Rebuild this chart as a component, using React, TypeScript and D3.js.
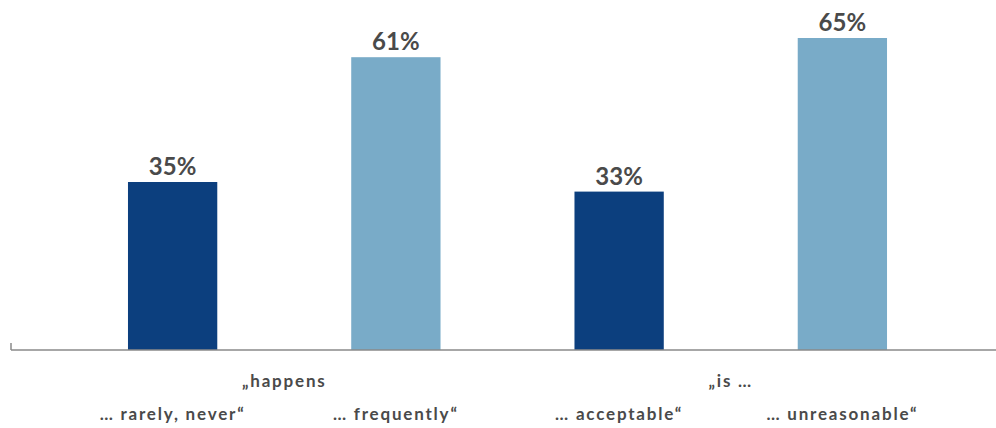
import React from "react";
import * as d3 from "d3";

// Survey shares per answer option, in percent
const categories = ["rarelyNever", "frequently", "acceptable", "unreasonable"];
const values = [35, 61, 33, 65];
const barLabels = ["35%", "61%", "33%", "65%"];
const answerLabels = ["… rarely, never“", "… frequently“", "… acceptable“", "… unreasonable“"];
const groupLabels = ["„happens", "„is …"];
const barColors = ["#0c3f7e", "#79abc8", "#0c3f7e", "#79abc8"];

const W = 996;
const H = 428;
const baseY = 350;
const font = "Lato, 'Open Sans', sans-serif";
const textColor = "#4a4a4a";

export default function App() {
  const x = d3
    .scaleBand<string>()
    .domain(categories)
    .range([61, 954])
    .paddingInner(0.6)
    .paddingOuter(0.3);
  const y = d3.scaleLinear().domain([0, 100]).range([baseY, baseY - 480]);

  const groupCenters = [0, 1].map((g) => {
    const a = x(categories[g * 2])! + x.bandwidth() / 2;
    const b = x(categories[g * 2 + 1])! + x.bandwidth() / 2;
    return (a + b) / 2;
  });

  const axisLabelStyle = {
    fontFamily: font,
    fontWeight: 700,
    fontSize: 17,
    letterSpacing: 1.8,
    fill: textColor,
  } as const;

  return (
    <svg
      width={W}
      height={H}
      style={{ position: "absolute", left: 0, top: 0, background: "#fff" }}
    >
      {categories.map((c, i) => {
        const bx = x(c)!;
        const cx = bx + x.bandwidth() / 2;
        return (
          <g key={c}>
            <rect
              x={bx}
              y={y(values[i])}
              width={x.bandwidth()}
              height={baseY - y(values[i])}
              fill={barColors[i]}
            />
            <text
              x={cx}
              y={y(values[i]) - 7}
              textAnchor="middle"
              fontFamily={font}
              fontWeight={700}
              fontSize={24}
              fill={textColor}
            >
              {barLabels[i]}
            </text>
            <text x={cx} y={420} textAnchor="middle" style={axisLabelStyle}>
              {answerLabels[i]}
            </text>
          </g>
        );
      })}
      {groupLabels.map((g, i) => (
        <text key={g} x={groupCenters[i]} y={387} textAnchor="middle" style={axisLabelStyle}>
          {g}
        </text>
      ))}
      <line x1={11} x2={W} y1={baseY} y2={baseY} stroke="#8a8a8a" strokeWidth={1.5} />
      <line x1={11} x2={11} y1={baseY - 7} y2={baseY} stroke="#8a8a8a" strokeWidth={1.5} />
    </svg>
  );
}
